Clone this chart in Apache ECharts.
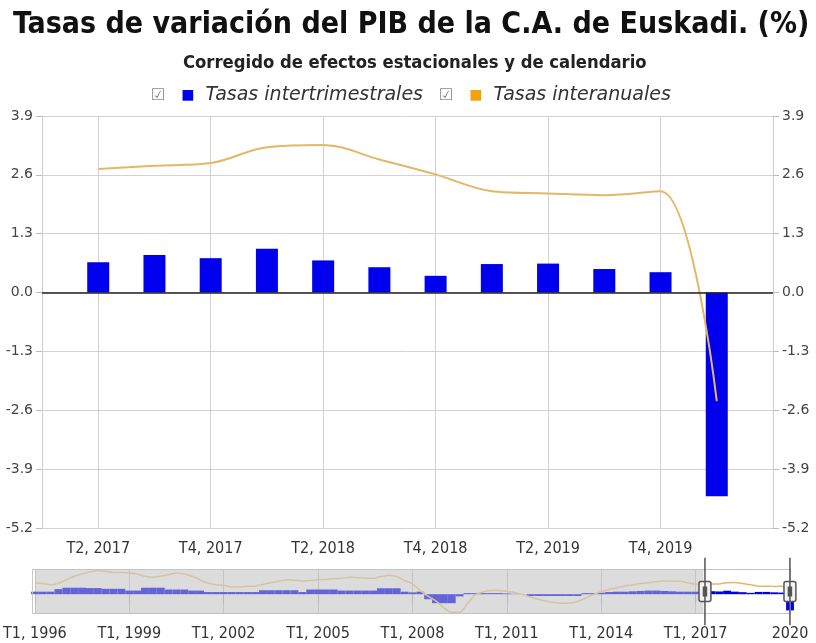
<!DOCTYPE html>
<html>
<head>
<meta charset="utf-8">
<script src="https://cdn.jsdelivr.net/npm/echarts@6/dist/echarts.min.js"></script>
<style>
  html, body { margin: 0; padding: 0; background: #fff; }
  #chart { width: 816px; height: 643px; }
</style>
</head>
<body>
<div id="chart"></div>
<script>
// ---- Data ----
const years = [1996, 1997, 1998, 1999, 2000, 2001, 2002, 2003, 2004, 2005, 2006, 2007, 2008,
               2009, 2010, 2011, 2012, 2013, 2014, 2015, 2016, 2017, 2018, 2019, 2020];
const quarterNames = ['T1', 'T2', 'T3', 'T4'];

// Tasas intertrimestrales (quarter on quarter, %), T1 1996 .. T1 2020
const intertrimestrales = [
  0.7, 0.7, 0.7, 1.4,
  1.8, 1.8, 1.8, 1.7,
  1.7, 1.5, 1.5, 1.5,
  1.0, 1.0, 1.8, 1.8,
  1.8, 1.3, 1.3, 1.3,
  1.0, 1.0, 0.6, 0.6,
  0.6, 0.6, 0.6, 0.6,
  0.6, 1.1, 1.1, 1.1,
  1.1, 1.1, 0.6, 1.3,
  1.3, 1.3, 1.3, 1.0,
  1.0, 1.0, 1.0, 1.0,
  1.65, 1.65, 1.65, 0.7,
  0.5, 0.7, -1.4, -2.5,
  -2.5, -2.5, -0.6, 0.3,
  0.3, 0.3, 0.3, 0.3,
  0.2, 0.1, 0.0, -0.5,
  -0.5, -0.5, -0.5, -0.5,
  -0.5, -0.5, 0.3, 0.3,
  0.4, 0.6, 0.7, 0.7,
  0.8, 0.9, 1.0, 1.0,
  0.9, 0.8, 0.7, 0.7,
  0.7, 0.67, 0.83, 0.76,
  0.97, 0.71, 0.56, 0.37,
  0.63, 0.64, 0.52, 0.45,
  -4.5
];

// Tasas interanuales (year on year, %), T1 1996 .. T1 2020
const interanuales = [
  3.2, 3.0, 2.6, 3.0,
  4.0, 5.0, 5.6, 6.2,
  6.6, 6.4, 6.0, 6.0,
  5.9, 5.6, 5.0, 4.7,
  5.0, 5.4, 5.9, 5.6,
  5.0, 4.0, 3.1, 2.6,
  2.5, 2.0, 2.0, 2.2,
  2.3, 2.7, 3.2, 3.6,
  4.0, 3.9, 3.7, 3.8,
  4.0, 4.1, 4.3, 4.4,
  4.7, 4.6, 4.5, 4.4,
  4.9, 5.2, 4.9, 3.8,
  2.9, 1.0, -0.6, -1.9,
  -3.8, -5.0, -5.0, -2.6,
  -0.2, 0.6, 1.0, 1.0,
  0.8, 0.5, -0.1, -0.8,
  -1.4, -1.9, -2.3, -2.5,
  -2.5, -2.0, -1.1, -0.1,
  0.7, 1.3, 1.8, 2.3,
  2.6, 3.0, 3.2, 3.5,
  3.7, 3.7, 3.6, 3.2,
  2.8, 2.73, 2.80, 2.86,
  3.21, 3.26, 2.94, 2.61,
  2.24, 2.19, 2.15, 2.24,
  -2.4
];

const seriesNames = ['Tasas intertrimestrales', 'Tasas interanuales'];
const titleText = 'Tasas de variación del PIB de la C.A. de Euskadi. (%)';
const subtitleText = 'Corregido de efectos estacionales y de calendario';

// window shown in the main chart: T2, 2017 .. T1, 2020
const windowStart = 85;
const windowEnd = 96;

// ---- Build categories ----
const categories = [];
years.forEach(y => quarterNames.forEach(q => categories.push(q + ', ' + y)));
categories.length = intertrimestrales.length;

// main axis: one empty slot of padding on each side of the window
const mainCats = [categories[windowStart - 1]]
  .concat(categories.slice(windowStart, windowEnd + 1))
  .concat(['T2, 2020']);
const mainBars = [null].concat(intertrimestrales.slice(windowStart, windowEnd + 1)).concat([null]);
const mainLine = [null].concat(interanuales.slice(windowStart, windowEnd + 1)).concat([null]);

// navigator data (full history)
const navBars = intertrimestrales.map((v, i) => ({
  value: v,
  itemStyle: { color: i >= windowStart ? '#0000e6' : '#6464da' }
}));
const navLineOut = interanuales.map((v, i) => (i <= windowStart ? v : null));
const navLineIn = interanuales.map((v, i) => (i >= windowStart ? v : null));

const FONT = 'DejaVu Sans';
const CFONT = '"DejaVu Sans Condensed", "Liberation Sans Narrow", "DejaVu Sans"';

const chart = echarts.init(document.getElementById('chart'), null, { renderer: 'canvas' });

const handlePath = 'path://M0,-34 L0,34 M-4,-10 L4,-10 Q6,-10 6,-8 L6,8 Q6,10 4,10 L-4,10 Q-6,10 -6,8 L-6,-8 Q-6,-10 -4,-10 Z M-1.5,-5 L-1.5,5 M1.5,-5 L1.5,5';

const option = {
  animation: false,
  backgroundColor: '#ffffff',
  title: [
    {
      text: titleText,
      left: 8,
      top: 5,
      textStyle: { fontFamily: CFONT, fontSize: 30, fontWeight: 'bold', color: '#111' }
    },
    {
      text: subtitleText,
      left: 178,
      top: 49,
      textStyle: { fontFamily: CFONT, fontSize: 18.3, fontWeight: 'bold', color: '#222' }
    }
  ],
  legend: {
    data: seriesNames,
    top: 81,
    left: 141,
    itemWidth: 0,
    itemHeight: 0,
    itemGap: 10,
    selectedMode: false,
    formatter: function (name) {
      const sq = name === seriesNames[0] ? 'a' : 'b';
      return '{cb|☑}{' + sq + '|■}{t|' + name + '}';
    },
    textStyle: {
      rich: {
        cb: { fontFamily: FONT, fontSize: 16, color: '#8a8a8a', padding: [0, 16, 0, 0] },
        a: { fontFamily: FONT, fontSize: 14, color: '#0000ee', padding: [0, 11, 0, 0] },
        b: { fontFamily: FONT, fontSize: 14, color: '#f0a30a', padding: [0, 11, 0, 0] },
        t: { fontFamily: FONT, fontSize: 19, fontStyle: 'italic', color: '#333' }
      }
    }
  },
  grid: [
    { left: 42, right: 43, top: 116, bottom: 115 },
    { left: 31, right: 26, top: 569, height: 45, show: true, backgroundColor: '#dcdcdc', borderWidth: 0 },
    { left: 31, right: 26, top: 569, height: 45, show: false }
  ],
  xAxis: [
    {
      type: 'category', gridIndex: 0, data: mainCats, boundaryGap: false,
      axisLine: { show: false }, axisTick: { show: false },
      axisLabel: {
        interval: (i) => i % 2 === 1 && i <= 11,
        fontFamily: CFONT, fontSize: 16, color: '#333', margin: 13
      },
      splitLine: { show: true, interval: (i) => i % 2 === 1 && i <= 11, lineStyle: { color: '#d2d2d2' } }
    },
    {
      type: 'category', gridIndex: 1, data: categories, boundaryGap: false,
      axisLine: { show: false },
      axisTick: { show: true, interval: (i) => i % 12 === 0, length: 9, lineStyle: { color: '#bbb' } },
      axisLabel: {
        interval: (i) => i % 12 === 0,
        formatter: (v, i) => (i === categories.length - 1 ? v.split(', ')[1] : v),
        fontFamily: CFONT, fontSize: 16, color: '#333', margin: 12
      },
      splitLine: { show: true, interval: (i) => i % 12 === 0, lineStyle: { color: '#c4c4c4' } }
    },
    { type: 'category', gridIndex: 2, data: categories, boundaryGap: false, show: false }
  ],
  yAxis: [
    {
      type: 'value', gridIndex: 0, position: 'left', min: -5.2, max: 3.9, interval: 1.3,
      axisLine: { show: true, lineStyle: { color: '#cfcfcf' } },
      axisTick: { show: true, length: 6, lineStyle: { color: '#bbb' } },
      axisLabel: { formatter: (v) => v.toFixed(1), fontFamily: FONT, fontSize: 14, color: '#444', margin: 9 },
      splitLine: { show: true, lineStyle: { color: '#d2d2d2' } }
    },
    {
      type: 'value', gridIndex: 0, position: 'right', min: -5.2, max: 3.9, interval: 1.3,
      axisLine: { show: true, lineStyle: { color: '#cfcfcf' } },
      axisTick: { show: true, length: 6, lineStyle: { color: '#bbb' } },
      axisLabel: { formatter: (v) => v.toFixed(1), fontFamily: FONT, fontSize: 14, color: '#444', margin: 9 },
      splitLine: { show: false }
    },
    { type: 'value', gridIndex: 1, min: -5.5, max: 7.0, show: false },
    { type: 'value', gridIndex: 2, min: -5.5, max: 7.0, show: false }
  ],
  dataZoom: [
    {
      type: 'slider', xAxisIndex: 2, left: 31, right: 26, top: 569, height: 45,
      startValue: windowStart, endValue: windowEnd,
      showDetail: false, showDataShadow: false, brushSelect: false,
      moveHandleSize: 0,
      backgroundColor: 'rgba(0,0,0,0)', fillerColor: 'rgba(0,0,0,0)',
      borderColor: '#c4c4c4', borderRadius: 0,
      dataBackground: { lineStyle: { opacity: 0 }, areaStyle: { opacity: 0 } },
      selectedDataBackground: { lineStyle: { opacity: 0 }, areaStyle: { opacity: 0 } },
      handleIcon: handlePath,
      handleSize: '150%',
      handleStyle: { color: '#f2f2f2', borderColor: '#555', borderWidth: 1.5 },
      emphasis: { handleStyle: { color: '#f2f2f2', borderColor: '#555' } },
      zoomLock: true
    }
  ],
  series: [
    {
      name: seriesNames[0], type: 'bar', xAxisIndex: 0, yAxisIndex: 0,
      data: mainBars, barWidth: 22,
      itemStyle: { color: '#0000ee' },
      markLine: {
        silent: true, symbol: 'none', label: { show: false },
        lineStyle: { color: '#222', width: 1.5, type: 'solid' },
        data: [{ yAxis: 0 }]
      },
      z: 3
    },
    {
      name: seriesNames[1], type: 'line', xAxisIndex: 0, yAxisIndex: 1,
      data: mainLine, smooth: 0.35, symbol: 'none', connectNulls: false,
      itemStyle: { color: '#f0a30a' },
      lineStyle: { color: '#e3b766', width: 2 },
      z: 4
    },
    {
      name: 'nav-inter', type: 'bar', xAxisIndex: 1, yAxisIndex: 2,
      data: navBars, barWidth: '100%', barCategoryGap: '0%',
      silent: true
    },
    {
      name: 'nav-anual-out', type: 'line', xAxisIndex: 1, yAxisIndex: 2,
      data: navLineOut, smooth: 0.3, symbol: 'none', silent: true,
      lineStyle: { width: 1.5, color: '#d4c4a2' },
      markArea: {
        silent: true,
        itemStyle: { color: '#ffffff' },
        data: [[{ xAxis: categories[windowStart] }, { xAxis: categories[windowEnd] }]]
      }
    },
    {
      name: 'nav-anual-in', type: 'line', xAxisIndex: 1, yAxisIndex: 2,
      data: navLineIn, smooth: 0.3, symbol: 'none', silent: true,
      lineStyle: { width: 1.5, color: '#e3b766' }
    }
  ]
};

chart.setOption(option);
</script>
</body>
</html>
